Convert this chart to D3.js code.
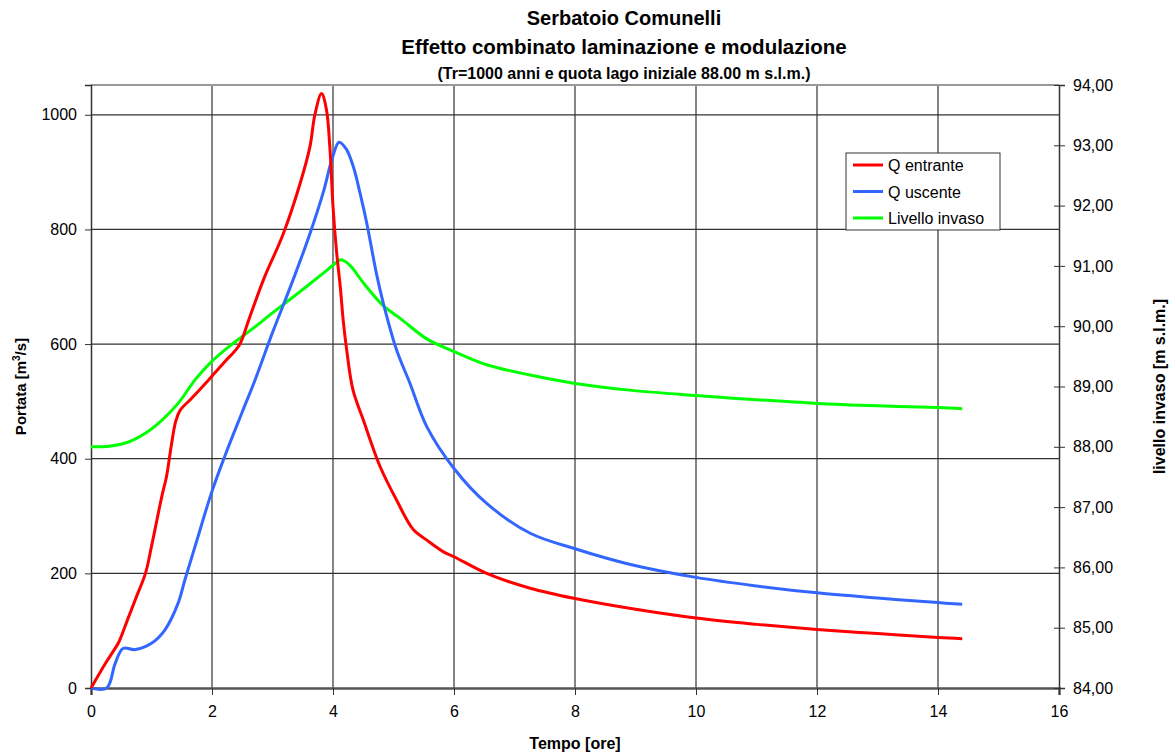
<!DOCTYPE html>
<html lang="it">

<head>
    <meta charset="UTF-8">
    <title>Serbatoio Comunelli</title>
    <style>
        * {
            margin: 0;
            padding: 0;
        }

        html,
        body {
            overflow: hidden;
            background: #fff;
        }

        text {
            font-family: Arial, 'Liberation Sans', sans-serif;
        }
    </style>
</head>

<body>
    <div id="chart"></div>
    <script src="https://cdn.jsdelivr.net/npm/d3@7"></script>
    <script>
        // Q entrante (red)
        const qInTime = [0, 0.25, 0.45, 0.5, 0.6, 0.75, 0.9, 1.0, 1.17, 1.25, 1.33, 1.4, 1.47, 1.66, 1.94, 2.2, 2.45, 2.6, 2.85, 3.18, 3.45, 3.62, 3.7, 3.81, 3.89, 3.95, 4.0, 4.06, 4.12, 4.17, 4.22, 4.33, 4.5, 4.78, 5.05, 5.33, 5.55, 5.82, 6.0, 6.54, 7.26, 8.0, 8.9, 10, 11, 12, 13, 14, 14.4]
        const qIn = [0, 45, 78, 90, 118, 159, 200, 247, 334, 370, 425, 465, 484, 505, 537, 568, 598, 640, 712, 793, 878, 945, 1000, 1037, 1010, 940, 840, 760, 700, 640, 595, 520, 468, 386, 328, 276, 258, 238, 229, 200, 174, 156, 139, 122, 111, 102, 95, 88, 86]

        // Q uscente (blue)
        const qOutTime = [0, 0.26, 0.4, 0.53, 0.73, 1.0, 1.22, 1.44, 1.55, 1.72, 1.99, 2.21, 2.49, 2.71, 3.0, 3.34, 3.62, 3.84, 3.98, 4.1, 4.22, 4.34, 4.45, 4.56, 4.72, 4.83, 5.05, 5.27, 5.55, 6.0, 6.54, 7.26, 8.0, 8.9, 10, 11, 12, 13, 14, 14.4]
        const qOut = [0, 0, 43, 69, 67, 78, 101, 148, 188, 247, 340, 404, 479, 537, 620, 712, 793, 865, 921, 952, 940, 908, 862, 810, 722, 672, 590, 532, 456, 383, 322, 270, 243, 216, 193, 178, 166, 157, 149, 146]

        // Livello invaso (green, right axis)
        const levelTime = [0, 0.3, 0.62, 0.89, 1.17, 1.44, 1.72, 2.0, 2.33, 2.7, 3.0, 3.45, 3.84, 4.0, 4.13, 4.28, 4.5, 4.83, 5.11, 5.55, 6.0, 6.54, 7.26, 8.0, 8.9, 10, 11, 12, 13, 14, 14.4]
        const level = [88.0, 88.01, 88.08, 88.22, 88.44, 88.72, 89.11, 89.42, 89.7, 89.98, 90.22, 90.57, 90.88, 91.01, 91.1, 91.01, 90.72, 90.34, 90.13, 89.79, 89.58, 89.36, 89.19, 89.05, 88.94, 88.85, 88.78, 88.72, 88.68, 88.65, 88.63]

        const xTicks = [0, 2, 4, 6, 8, 10, 12, 14, 16]
        const yTicks = [0, 200, 400, 600, 800, 1000]
        const y2Ticks = [84, 85, 86, 87, 88, 89, 90, 91, 92, 93, 94]

        const seriesNames = ['Q entrante', 'Q uscente', 'Livello invaso']
        const colors = ['#FF0000', '#3366FF', '#00FF00']

        function drawChart() {
            const width = 1172
            const height = 753
            const margin = { top: 85, right: 113, bottom: 65, left: 91 }
            const innerW = width - margin.left - margin.right
            const innerH = height - margin.top - margin.bottom

            const svg = d3.select('#chart')
                .append('svg')
                .attr('width', width)
                .attr('height', height)
                .style('background', '#fff')

            const x = d3.scaleLinear().domain([0, 16]).range([margin.left, margin.left + innerW])
            const y = d3.scaleLinear().domain([0, 1052]).range([margin.top + innerH, margin.top])
            const y2 = d3.scaleLinear().domain([84, 94]).range([margin.top + innerH, margin.top])

            // gridlines
            svg.append('g')
                .selectAll('line')
                .data(xTicks.slice(1, -1))
                .join('line')
                .attr('x1', d => x(d)).attr('x2', d => x(d))
                .attr('y1', margin.top).attr('y2', margin.top + innerH)
                .attr('stroke', '#333').attr('stroke-width', 1.2)
            svg.append('g')
                .selectAll('line')
                .data(yTicks.slice(1))
                .join('line')
                .attr('x1', margin.left).attr('x2', margin.left + innerW)
                .attr('y1', d => y(d)).attr('y2', d => y(d))
                .attr('stroke', '#333').attr('stroke-width', 1.2)

            // top border
            svg.append('line')
                .attr('x1', margin.left).attr('x2', margin.left + innerW)
                .attr('y1', margin.top).attr('y2', margin.top)
                .attr('stroke', '#999').attr('stroke-width', 2)

            // axes
            const xAxis = svg.append('g')
                .attr('transform', `translate(0,${margin.top + innerH})`)
                .call(d3.axisBottom(x).tickValues(xTicks).tickSize(7).tickPadding(11))
            const yAxis = svg.append('g')
                .attr('transform', `translate(${margin.left},0)`)
                .call(d3.axisLeft(y).tickValues(yTicks).tickSize(6).tickPadding(8).tickFormat(d3.format('d')))
            const y2Axis = svg.append('g')
                .attr('transform', `translate(${margin.left + innerW},0)`)
                .call(d3.axisRight(y2).tickValues(y2Ticks).tickSize(6).tickPadding(8)
                    .tickFormat(d => d3.format('.2f')(d).replace('.', ',')))
            y2Axis.selectAll('.tick line').attr('x1', -5)

            for (const a of [xAxis, yAxis, y2Axis]) {
                a.selectAll('text').attr('font-size', 16).attr('fill', '#000')
                    .style('font-family', 'Arial, "Liberation Sans", sans-serif')
                a.selectAll('.tick line').attr('stroke', '#333')
                a.select('.domain').attr('stroke', '#333')
            }
            xAxis.select('.domain').attr('stroke', '#555').attr('stroke-width', 2.5)
            yAxis.select('.domain').attr('stroke-width', 1.5)
            y2Axis.select('.domain').attr('stroke-width', 1.5)

            // lines
            const line = (xs, ys, ysc) => d3.line()
                .x((d, i) => x(xs[i]))
                .y(d => ysc(d))
                .curve(d3.curveCatmullRom.alpha(0.5))(ys)

            const seriesData = [
                { t: qInTime, v: qIn, s: y },
                { t: qOutTime, v: qOut, s: y },
                { t: levelTime, v: level, s: y2 }
            ]
            const plot = svg.append('g')
            seriesData.slice().reverse().forEach((sd, k) => {
                const i = 2 - k
                plot.append('path')
                    .attr('d', line(sd.t, sd.v, sd.s))
                    .attr('fill', 'none')
                    .attr('stroke', colors[i])
                    .attr('stroke-width', 3)
                    .attr('stroke-linejoin', 'round')
            })

            // titles
            const cx = 624
            svg.append('text').attr('x', cx).attr('y', 25)
                .attr('text-anchor', 'middle').attr('font-size', 20).attr('font-weight', 'bold')
                .text('Serbatoio Comunelli')
            svg.append('text').attr('x', cx).attr('y', 54)
                .attr('text-anchor', 'middle').attr('font-size', 20.5).attr('font-weight', 'bold')
                .text('Effetto combinato laminazione e modulazione')
            svg.append('text').attr('x', cx).attr('y', 79)
                .attr('text-anchor', 'middle').attr('font-size', 16).attr('font-weight', 'bold')
                .text('(Tr=1000 anni e quota lago iniziale 88.00 m s.l.m.)')

            // axis titles
            svg.append('text').attr('x', margin.left + innerW / 2).attr('y', 749)
                .attr('text-anchor', 'middle').attr('font-size', 16).attr('font-weight', 'bold')
                .text('Tempo [ore]')
            const yt = svg.append('text')
                .attr('transform', `translate(26,${margin.top + innerH / 2}) rotate(-90)`)
                .attr('text-anchor', 'middle').attr('font-size', 15).attr('font-weight', 'bold')
            yt.append('tspan').text('Portata [m')
            yt.append('tspan').attr('font-size', 10).attr('dy', -6).text('3')
            yt.append('tspan').attr('dy', 6).text('/s]')
            svg.append('text')
                .attr('transform', `translate(1165,${margin.top + innerH / 2}) rotate(-90)`)
                .attr('text-anchor', 'middle').attr('font-size', 16).attr('font-weight', 'bold')
                .text('livello invaso [m s.l.m.]')

            // legend
            const lg = svg.append('g').attr('transform', 'translate(846,153)')
            lg.append('rect').attr('width', 154).attr('height', 77)
                .attr('fill', '#fff').attr('stroke', '#333').attr('stroke-width', 1)
            seriesNames.forEach((name, i) => {
                const ly = 12 + i * 26.5
                lg.append('line').attr('x1', 7).attr('x2', 37).attr('y1', ly).attr('y2', ly)
                    .attr('stroke', colors[i]).attr('stroke-width', 3)
                lg.append('text').attr('x', 42).attr('y', ly + 6)
                    .attr('font-size', 16).text(name)
            })
        }

        drawChart()
    </script>
</body>

</html>
